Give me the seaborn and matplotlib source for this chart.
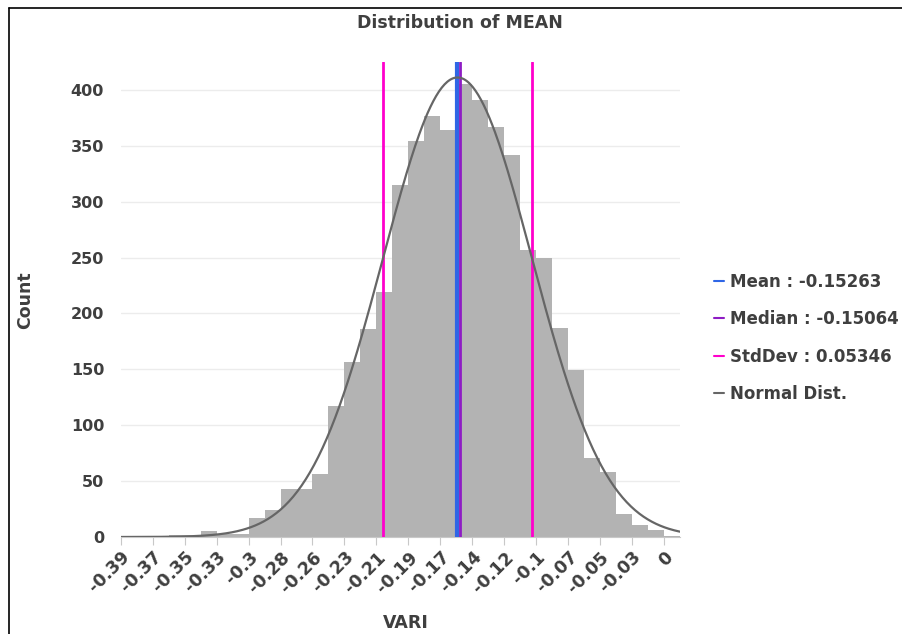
import numpy as np
import pandas as pd
import matplotlib
matplotlib.use("Agg")
import matplotlib.pyplot as plt
import seaborn as sns
from matplotlib.lines import Line2D

# histogram of MEAN (VARI), 35 bins
BIN_START = -0.3943
BIN_WIDTH = 0.011466
counts = [0, 1, 1, 2, 2, 5, 3, 3, 17, 24,
          43, 43, 56, 117, 157, 186, 219, 315, 354, 377,
          364, 405, 391, 367, 342, 257, 250, 187, 149, 71,
          58, 21, 11, 6, 1]
tick_labels = ["-0.39", "-0.37", "-0.35", "-0.33", "-0.3", "-0.28", "-0.26",
               "-0.23", "-0.21", "-0.19", "-0.17", "-0.14", "-0.12", "-0.1",
               "-0.07", "-0.05", "-0.03", "0"]
y_ticks = [0, 50, 100, 150, 200, 250, 300, 350, 400]

mean_val = -0.15263
median_val = -0.15064
std_val = 0.05346

TEXT = "#3f3f3f"
C_MEAN = "#2f66e6"
C_MEDIAN = "#8e1cc4"
C_STD = "#ff00cc"
C_NORM = "#666666"

sns.set_style("white")
plt.rcParams["font.family"] = ["DejaVu Sans"]

n_bins = len(counts)
edges = BIN_START + BIN_WIDTH * np.arange(n_bins + 1)
hist_df = pd.DataFrame({"VARI": (edges[:-1] + edges[1:]) / 2, "Count": counts})

fig = plt.figure(figsize=(9.03, 6.34), dpi=100)
ax = fig.add_axes([0.1337, 0.1530, 0.6193, 0.7492])

sns.histplot(data=hist_df, x="VARI", weights="Count", binwidth=BIN_WIDTH,
             binrange=(edges[0], edges[-1]), color="#b3b3b3",
             alpha=1, linewidth=0, ax=ax)

# fitted normal curve
total = sum(counts)
xs = np.linspace(edges[0], edges[-1], 400)
pdf = np.exp(-0.5 * ((xs - mean_val) / std_val) ** 2) / (std_val * np.sqrt(2 * np.pi))
ax.plot(xs, pdf * total * BIN_WIDTH, color=C_NORM, lw=1.6, zorder=4)

ax.axvline(mean_val - std_val, color=C_STD, lw=2, zorder=3)
ax.axvline(mean_val + std_val, color=C_STD, lw=2, zorder=3)
ax.axvline(mean_val, color=C_MEAN, lw=3, zorder=3)
ax.axvline(median_val, color=C_MEDIAN, lw=2, zorder=3)

ax.set_xlim(edges[0], edges[-1])
ax.set_ylim(0, 425)
ax.set_yticks(y_ticks)
ax.set_yticklabels([str(v) for v in y_ticks], fontsize=11.5, fontweight="bold", color=TEXT)
ax.yaxis.grid(True, color="#ececec", lw=1)
ax.set_axisbelow(True)

ax.set_xticks(edges[0:n_bins:2])
ax.set_xticklabels(tick_labels, rotation=45, ha="right", rotation_mode="anchor",
                   fontsize=12.5, fontweight="bold", color=TEXT)
ax.tick_params(axis="x", length=6, color="#c8c8c8", pad=2, bottom=True)
ax.tick_params(axis="y", length=0, pad=12)

for s in ["top", "right", "left"]:
    ax.spines[s].set_visible(False)
ax.spines["bottom"].set_color("#c8c8c8")

ax.set_xlabel("")
ax.set_ylabel("")
fig.text(0.449, 0.010, "VARI", fontsize=12.5, fontweight="bold", color=TEXT, ha="center")
fig.text(0.028, 0.527, "Count", fontsize=12.5, fontweight="bold", color=TEXT,
         rotation=90, va="center", ha="center")
fig.text(0.509, 0.963, "Distribution of MEAN", fontsize=12.5, fontweight="bold",
         color=TEXT, ha="center", va="center")

handles = [Line2D([], [], color=C_MEAN, lw=1.5),
           Line2D([], [], color=C_MEDIAN, lw=1.5),
           Line2D([], [], color=C_STD, lw=1.5),
           Line2D([], [], color=C_NORM, lw=1.5)]
labels = [f"Mean : {mean_val:.5f}", f"Median : {median_val:.5f}",
          f"StdDev : {std_val:.5f}", "Normal Dist."]
leg = fig.legend(handles, labels, loc="center left", bbox_to_anchor=(0.781, 0.467),
                 frameon=False, handlelength=0.6, handletextpad=0.4,
                 labelspacing=1.17, borderpad=0, prop={"size": 12, "weight": "bold"})
for t in leg.get_texts():
    t.set_color(TEXT)

# screenshot frame
fig.add_artist(Line2D([0.010, 0.010], [0.0, 0.987], color="black", lw=1.2,
                      transform=fig.transFigure))
fig.add_artist(Line2D([0.010, 1.0], [0.987, 0.987], color="black", lw=1.2,
                      transform=fig.transFigure))

fig.savefig("out.png", dpi=100)
